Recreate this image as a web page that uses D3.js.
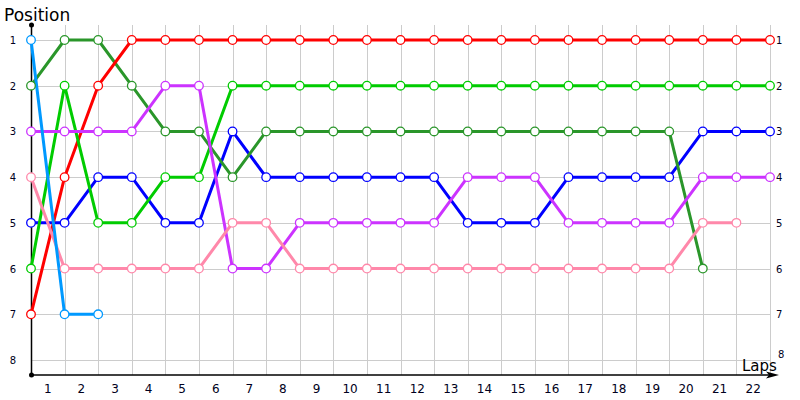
<!DOCTYPE html>
<html><head><meta charset="utf-8">
<script src="https://cdn.jsdelivr.net/npm/d3@7"></script>
<style>body{margin:0;background:#fff}svg{display:block}text{font-family:"DejaVu Sans",Verdana,sans-serif}</style>
</head><body><svg id="c" width="800" height="400"></svg>
<script>
const laps = d3.range(1, 23);            // tick labels 1..22
const positions = [1,2,3,4,5,6,7,8];
const seriesNames = ["blue","darkgreen","red","lightgreen","purple","pink","lightblue"];
const colors = ["#0000ff","#2a962a","#ff0000","#00cc00","#cc33ff","#ff88aa","#0099ff"];
const blue      = [5,5,4,4,5,5,3,4,4,4,4,4,4,5,5,5,4,4,4,4,3,3,3];
const darkgreen = [2,1,1,2,3,3,4,3,3,3,3,3,3,3,3,3,3,3,3,3,6];
const red       = [7,4,2,1,1,1,1,1,1,1,1,1,1,1,1,1,1,1,1,1,1,1,1];
const lightgreen= [6,2,5,5,4,4,2,2,2,2,2,2,2,2,2,2,2,2,2,2,2,2,2];
const purple    = [3,3,3,3,2,2,6,6,5,5,5,5,5,4,4,4,5,5,5,5,4,4,4];
const pink      = [4,6,6,6,6,6,5,5,6,6,6,6,6,6,6,6,6,6,6,6,5,5];
const lightblue = [1,7,7];
const values = [blue,darkgreen,red,lightgreen,purple,pink,lightblue];

const svg = d3.select("#c");
const x = d3.scaleLinear().domain([0,22]).range([31,770]);
const y = d3.scaleLinear().domain([1,8]).range([40,360]);
const yTop = 25, yBot = 375;

// grid
const g = svg.append("g");
g.selectAll("line.v").data(d3.range(1,23)).join("line")
  .attr("x1",d=>Math.round(x(d))+0.5).attr("x2",d=>Math.round(x(d))+0.5).attr("y1",yTop).attr("y2",yBot)
  .attr("stroke","#cccccc").attr("stroke-width",1);
g.selectAll("line.h").data(positions).join("line")
  .attr("x1",x(0)).attr("x2",x(22)).attr("y1",d=>Math.round(y(d))+0.5).attr("y2",d=>Math.round(y(d))+0.5)
  .attr("stroke","#cccccc").attr("stroke-width",1);

// axes
svg.append("line").attr("x1",31.5).attr("x2",31.5).attr("y1",yTop).attr("y2",yBot).attr("stroke","#000").attr("stroke-width",1.5);
svg.append("circle").attr("cx",31.5).attr("cy",yTop).attr("r",2.5).attr("fill","#000");
svg.append("circle").attr("cx",31.5).attr("cy",yBot).attr("r",2.5).attr("fill","#000");
svg.append("line").attr("x1",31).attr("x2",770).attr("y1",yBot).attr("y2",yBot).attr("stroke","#000").attr("stroke-width",1.5);
svg.append("path").attr("d",`M766,${yBot-3.5}L779,${yBot}L766,${yBot+3.5}L769,${yBot}Z`).attr("fill","#000");

// x tick labels between grid lines
svg.selectAll("text.xl").data(laps).join("text")
  .attr("x",d=>x(d-0.5)).attr("y",393).attr("text-anchor","middle")
  .attr("font-size",12).attr("fill","#000020").text(d=>d);
// y labels left and right
svg.selectAll("text.yl").data(positions).join("text")
  .attr("x",13).attr("y",d=>y(d)+4).attr("text-anchor","middle")
  .attr("font-size",10).attr("fill","#000020").text(d=>d);
svg.selectAll("text.yr").data(positions).join("text")
  .attr("x",d=>d===8?778:776).attr("y",d=>d===8?y(d)-2:y(d)+4).attr("text-anchor","start")
  .attr("font-size",10).attr("fill","#000020").text(d=>d);

svg.append("text").attr("x",4).attr("y",21).attr("font-size",17).attr("font-family","Liberation Sans, Arial, sans-serif").attr("fill","#000").text("Position");
svg.append("text").attr("x",742).attr("y",371).attr("font-size",15).attr("font-family","Liberation Sans, Arial, sans-serif").attr("fill","#000").text("Laps");

// lines
const line = d3.line().x((d,i)=>x(i)).y(d=>y(d));
values.forEach((vals,k)=>{
  svg.append("path").datum(vals).attr("d",line).attr("fill","none")
    .attr("stroke",colors[k]).attr("stroke-width",3).attr("stroke-linejoin","round");
});
values.forEach((vals,k)=>{
  svg.append("g").selectAll("circle").data(vals).join("circle")
    .attr("cx",(d,i)=>x(i)).attr("cy",d=>y(d)).attr("r",4.3)
    .attr("fill","#fff").attr("stroke",colors[k]).attr("stroke-width",1.3);
});
</script></body></html>
